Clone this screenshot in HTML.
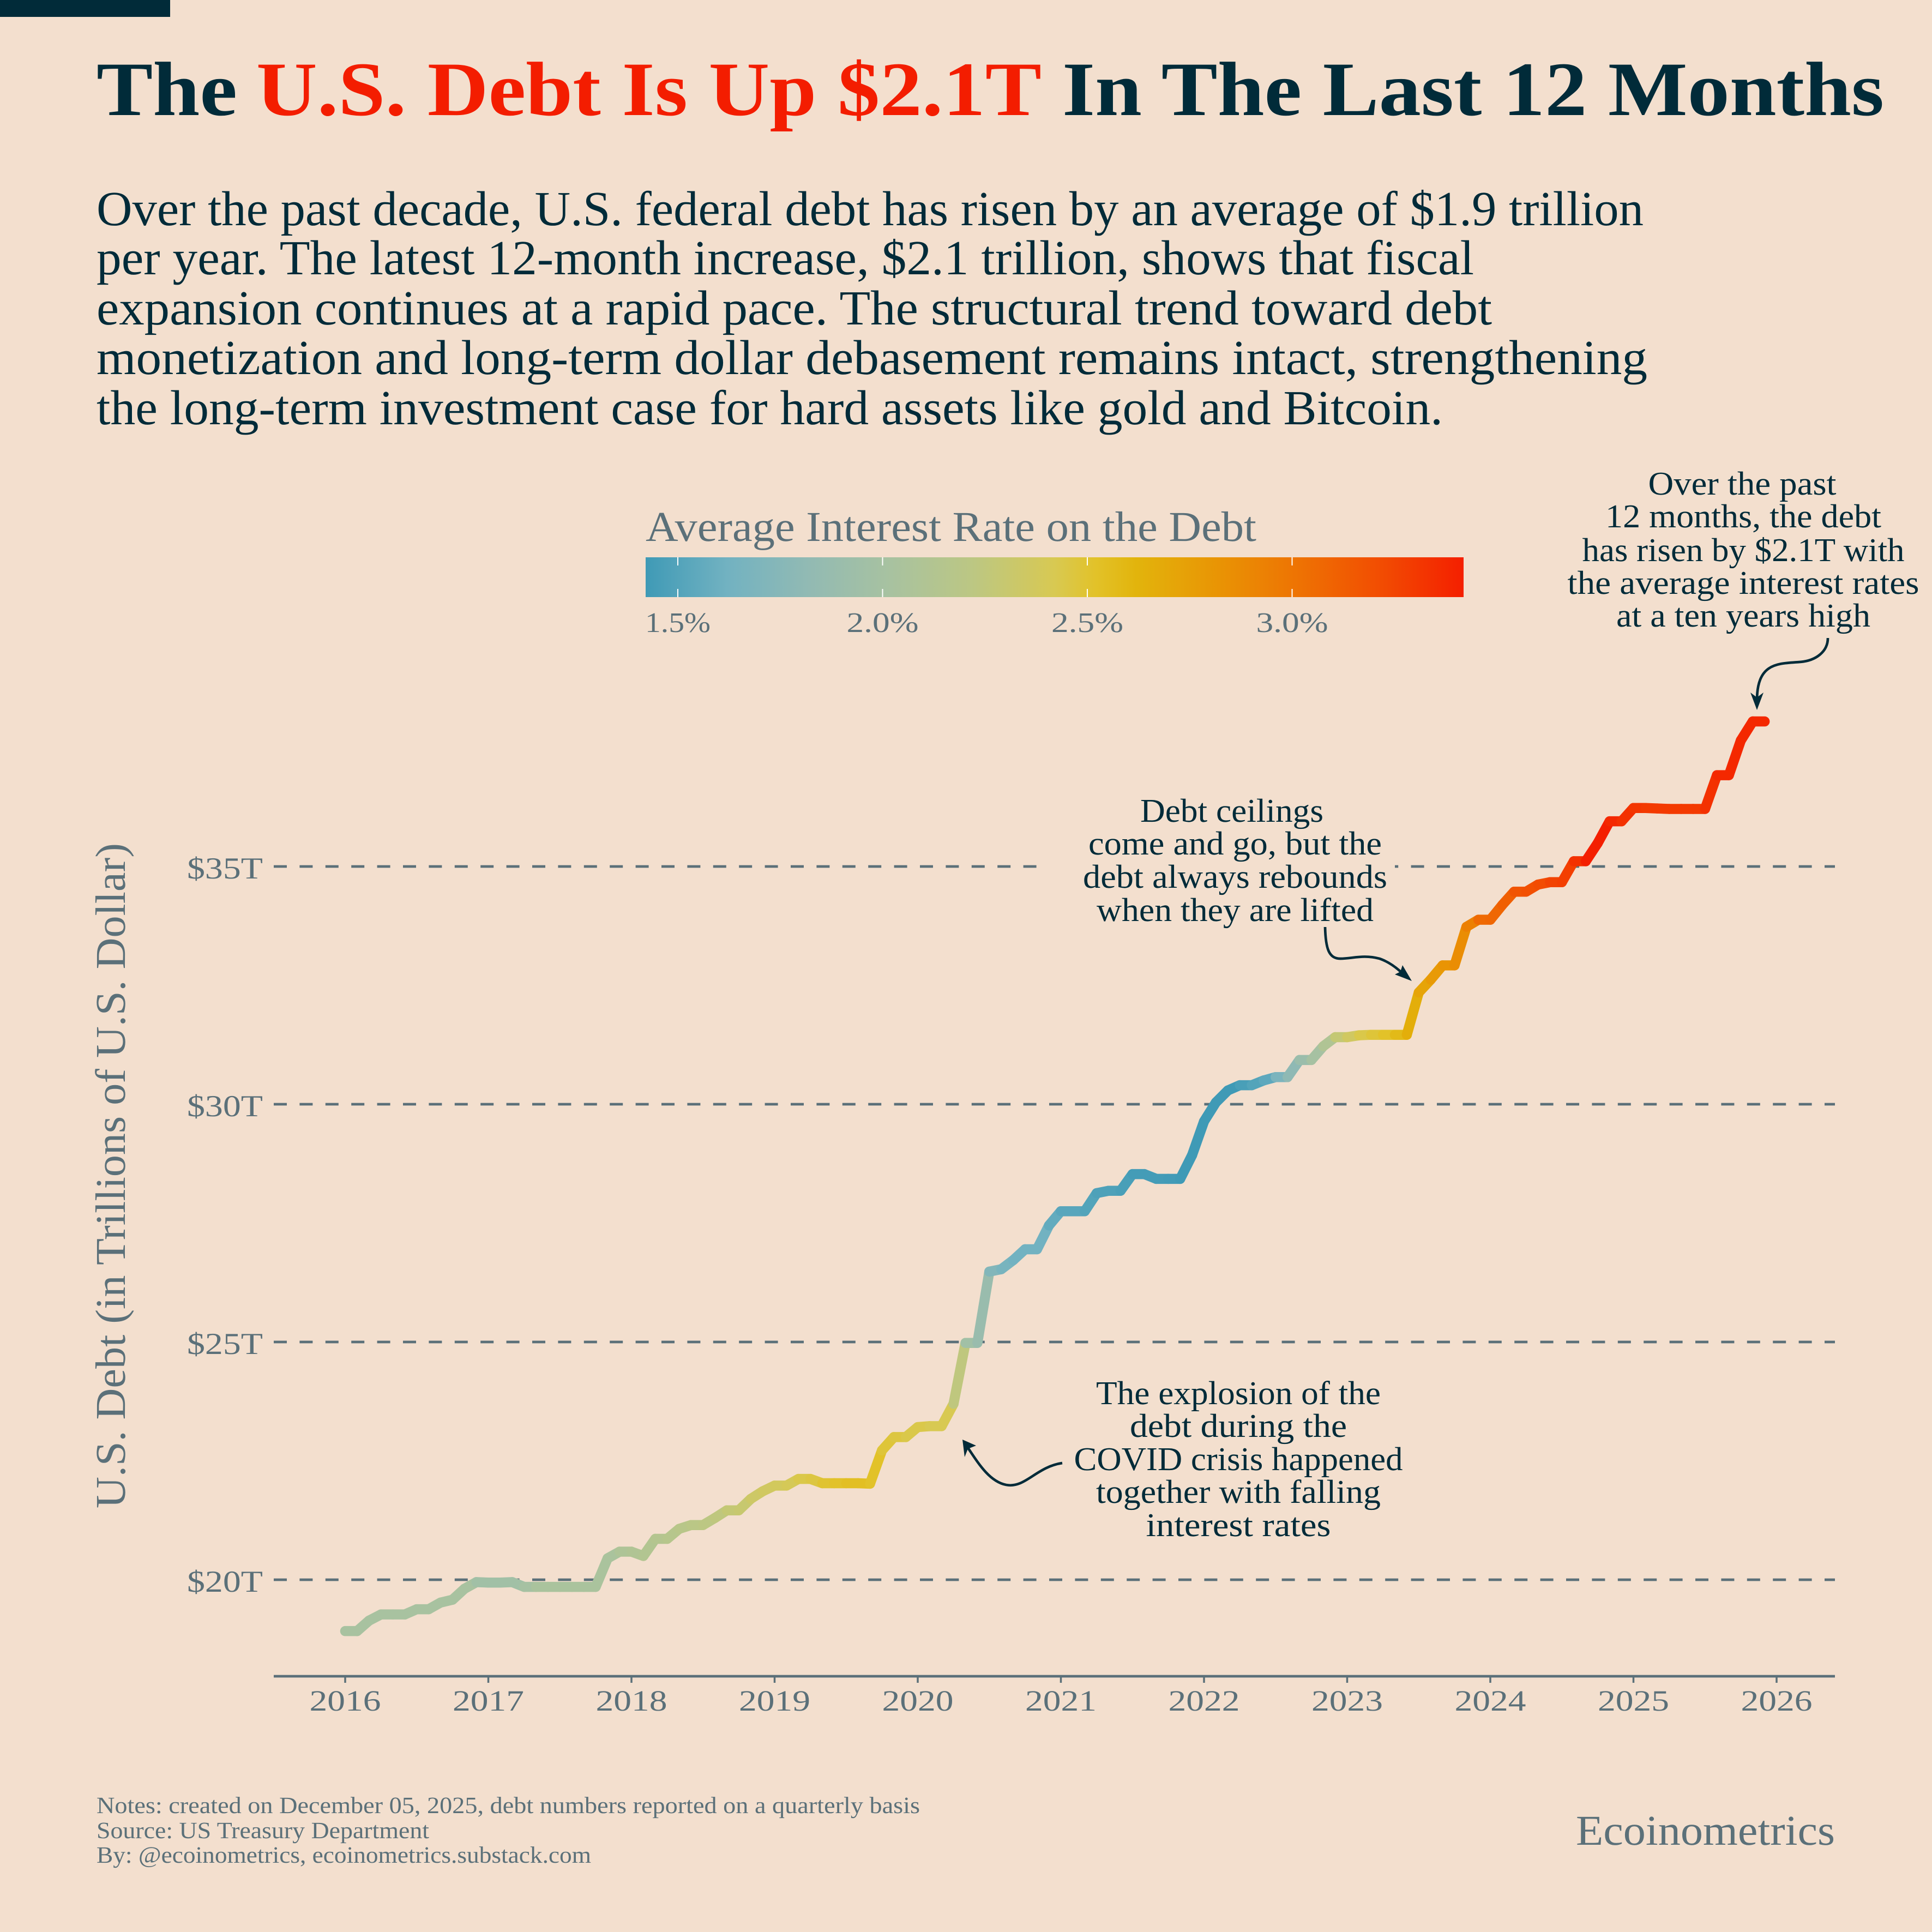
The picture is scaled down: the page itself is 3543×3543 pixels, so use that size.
<!DOCTYPE html>
<html lang="en">
<head>
<meta charset="utf-8">
<title>The U.S. Debt Is Up $2.1T In The Last 12 Months</title>
<style>
html,body{margin:0;padding:0;background:#f3dfce;}
svg{display:block;}
text{font-family:"Liberation Serif",serif;text-rendering:geometricPrecision;}
.dark{fill:#012b39;}
.gray{fill:#5b7079;}
.ann{fill:#012b39;font-size:61px;text-anchor:middle;}
.sub{fill:#012b39;font-size:90px;}
.note{fill:#5b7079;font-size:43px;}
.lgl{fill:#5b7079;font-size:52px;text-anchor:middle;}
</style>
</head>
<body>
<svg id="chart" xmlns="http://www.w3.org/2000/svg" width="3543" height="3543" viewBox="0 0 3543 3543">
  <defs>
    <linearGradient id="cbar-grad" x1="0" x2="1" y1="0" y2="0"></linearGradient>
  </defs>
  <rect x="0" y="0" width="3543" height="3543" fill="#f3dfce"/>
  <rect x="0" y="0" width="312" height="31" fill="#012b39"/>

  <g font-weight="700" font-size="141">
    <text class="dark" x="177" y="211" textLength="258" lengthAdjust="spacingAndGlyphs">The</text>
    <text x="470" y="211" fill="#f31d00" textLength="1440" lengthAdjust="spacingAndGlyphs">U.S. Debt Is Up $2.1T</text>
    <text class="dark" x="1948" y="211" textLength="1507" lengthAdjust="spacingAndGlyphs">In The Last 12 Months</text>
  </g>

  <g>
    <text class="sub" x="177" y="413" textLength="2837" lengthAdjust="spacingAndGlyphs">Over the past decade, U.S. federal debt has risen by an average of $1.9 trillion</text>
    <text class="sub" x="177" y="503" textLength="2526" lengthAdjust="spacingAndGlyphs">per year. The latest 12-month increase, $2.1 trillion, shows that fiscal</text>
    <text class="sub" x="177" y="595" textLength="2559" lengthAdjust="spacingAndGlyphs">expansion continues at a rapid pace. The structural trend toward debt</text>
    <text class="sub" x="177" y="686" textLength="2844" lengthAdjust="spacingAndGlyphs">monetization and long-term dollar debasement remains intact, strengthening</text>
    <text class="sub" x="177" y="778" textLength="2469" lengthAdjust="spacingAndGlyphs">the long-term investment case for hard assets like gold and Bitcoin.</text>
  </g>

  <g>
    <text class="gray" x="1184" y="992" font-size="78" textLength="1120" lengthAdjust="spacingAndGlyphs">Average Interest Rate on the Debt</text>
    <rect x="1184" y="1022" width="1500" height="73" fill="url(#cbar-grad)"/>
    <g id="legend-ticks"></g>
  </g>

  <g id="grid"></g>
  <rect x="1918" y="1460" width="640" height="250" fill="#f3dfce"/>
  <g id="y-axis"></g>
  <text class="gray" font-size="78" text-anchor="middle" transform="translate(229 2156) rotate(-90)" textLength="1220" lengthAdjust="spacingAndGlyphs">U.S. Debt (in Trillions of U.S. Dollar)</text>
  <g id="x-axis"></g>
  <g id="series" fill="none" stroke-width="18.5" stroke-linecap="round"></g>

  <g>
    <text class="ann" x="3195" y="907" textLength="345" lengthAdjust="spacingAndGlyphs">Over the past</text>
    <text class="ann" x="3197" y="967" textLength="506" lengthAdjust="spacingAndGlyphs">12 months, the debt</text>
    <text class="ann" x="3197" y="1029" textLength="591" lengthAdjust="spacingAndGlyphs">has risen by $2.1T with</text>
    <text class="ann" x="3197" y="1089" textLength="645" lengthAdjust="spacingAndGlyphs">the average interest rates</text>
    <text class="ann" x="3197" y="1149" textLength="466" lengthAdjust="spacingAndGlyphs">at a ten years high</text>
    <path d="M3352 1170 C3352 1195 3330 1212 3300 1214 C3260 1217 3222 1215 3222 1285" fill="none" stroke="#012b39" stroke-width="4.7"/>
    <polygon points="3222,1302 3210,1270 3222,1279 3234,1270" fill="#012b39"/>
  </g>

  <g>
    <text class="ann" x="2259" y="1507" textLength="336" lengthAdjust="spacingAndGlyphs">Debt ceilings</text>
    <text class="ann" x="2265" y="1567" textLength="538" lengthAdjust="spacingAndGlyphs">come and go, but the</text>
    <text class="ann" x="2265" y="1628" textLength="558" lengthAdjust="spacingAndGlyphs">debt always rebounds</text>
    <text class="ann" x="2265" y="1689" textLength="508" lengthAdjust="spacingAndGlyphs">when they are lifted</text>
    <path d="M2430 1700 C2431 1740 2437 1758 2458 1758 C2480 1758 2500 1750 2530 1758 C2550 1765 2565 1778 2575 1788" fill="none" stroke="#012b39" stroke-width="4.7"/>
    <polygon points="2589,1799 2572,1770 2568,1782 2558,1787" fill="#012b39"/>
  </g>

  <g>
    <text class="ann" x="2271" y="2575" textLength="522" lengthAdjust="spacingAndGlyphs">The explosion of the</text>
    <text class="ann" x="2271" y="2635" textLength="398" lengthAdjust="spacingAndGlyphs">debt during the</text>
    <text class="ann" x="2271" y="2696" textLength="603" lengthAdjust="spacingAndGlyphs">COVID crisis happened</text>
    <text class="ann" x="2271" y="2756" textLength="522" lengthAdjust="spacingAndGlyphs">together with falling</text>
    <text class="ann" x="2271" y="2817" textLength="339" lengthAdjust="spacingAndGlyphs">interest rates</text>
    <path d="M1948 2683 C1900 2690 1880 2730 1845 2723 C1815 2717 1795 2685 1775 2655" fill="none" stroke="#012b39" stroke-width="4.7"/>
    <polygon points="1765,2640 1769,2672 1775,2657 1790,2651" fill="#012b39"/>
  </g>

  <g>
    <text class="note" x="177" y="3325" textLength="1510" lengthAdjust="spacingAndGlyphs">Notes: created on December 05, 2025, debt numbers reported on a quarterly basis</text>
    <text class="note" x="177" y="3371" textLength="610" lengthAdjust="spacingAndGlyphs">Source: US Treasury Department</text>
    <text class="note" x="177" y="3416" textLength="907" lengthAdjust="spacingAndGlyphs">By: @ecoinometrics, ecoinometrics.substack.com</text>
  </g>
  <text class="gray" x="2890" y="3383" font-size="78" textLength="475" lengthAdjust="spacingAndGlyphs">Ecoinometrics</text>
</svg>

<script>
// Monthly debt, trillions of USD, Jan 2016 onward
var debt = [
  18.92,18.92,19.14,19.27,19.27,19.27,19.38,19.38,19.52,19.58,19.81,19.95,
  19.94,19.94,19.95,19.85,19.85,19.85,19.85,19.85,19.85,19.85,20.45,20.59,
  20.59,20.50,20.86,20.86,21.07,21.15,21.15,21.30,21.46,21.46,21.70,21.86,
  21.98,21.98,22.12,22.12,22.03,22.03,22.03,22.03,22.02,22.72,23.00,23.00,
  23.21,23.23,23.23,23.70,24.98,24.98,26.48,26.53,26.72,26.95,26.95,27.45,
  27.75,27.75,27.75,28.13,28.18,28.18,28.53,28.53,28.43,28.43,28.43,28.93,
  29.64,30.04,30.29,30.40,30.40,30.50,30.57,30.57,30.93,30.93,31.22,31.41,
  31.41,31.45,31.46,31.46,31.46,31.46,32.35,32.62,32.92,32.92,33.73,33.88,
  33.88,34.19,34.47,34.47,34.62,34.67,34.67,35.11,35.11,35.49,35.95,35.95,
  36.23,36.23,36.22,36.21,36.21,36.21,36.21,36.92,36.92,37.65,38.05,38.05
];
// Monthly average interest rate, percent (estimated from the line colour)
var rate = [
  2.02,2.02,2.02,2.02,2.02,2.02,2.02,2.02,2.02,2.02,2.02,1.96,
  1.96,1.96,1.96,2.00,2.04,2.04,2.04,2.04,2.04,2.04,2.04,2.08,
  2.10,2.12,2.14,2.16,2.18,2.20,2.22,2.24,2.28,2.30,2.34,2.36,
  2.38,2.40,2.44,2.46,2.50,2.52,2.54,2.54,2.52,2.48,2.46,2.44,
  2.44,2.42,2.42,2.24,1.96,1.88,1.72,1.66,1.62,1.62,1.62,1.56,
  1.52,1.52,1.50,1.48,1.48,1.46,1.44,1.44,1.44,1.43,1.42,1.42,
  1.42,1.42,1.42,1.46,1.50,1.54,1.68,1.80,1.90,2.00,2.10,2.28,
  2.36,2.44,2.48,2.52,2.58,2.66,2.72,2.78,2.82,2.86,2.94,3.06,
  3.08,3.12,3.18,3.20,3.22,3.26,3.28,3.34,3.42,3.42,3.38,3.34,
  3.32,3.30,3.30,3.30,3.30,3.30,3.34,3.38,3.38,3.38,3.38,3.38
];
var startYear = 2016;
var xTickYears = [2016,2017,2018,2019,2020,2021,2022,2023,2024,2025,2026];
var yTickValues = [20,25,30,35];
var yTickLabels = ["$20T","$25T","$30T","$35T"];
var legendTickValues = [1.5,2.0,2.5,3.0];
var legendTickLabels = ["1.5%","2.0%","2.5%","3.0%"];
var rateDomain = [1.42,3.42];
var paletteStops = [0,0.1,0.2,0.3,0.4,0.5,0.55,0.6,0.7,0.8,0.9,1];
var paletteColors = ["#3f9ab6","#72b2c1","#92bab3","#a8c2a0","#bcc783","#d8c952","#e2c229","#e2b40c","#e99404","#ee7203","#f24c02","#f41f00"];

var NS = "http://www.w3.org/2000/svg";
function xScale(year){ return 633 + 262.5 * (year - 2016); }
function yScale(v){ return 2897 - 87.2 * (v - 20); }
function legendX(r){ return 1243 + 751 * (r - 1.5); }
function hex(c){ return [parseInt(c.substr(1,2),16),parseInt(c.substr(3,2),16),parseInt(c.substr(5,2),16)]; }
function rateColor(r){
  var f = (r - rateDomain[0]) / (rateDomain[1] - rateDomain[0]);
  f = Math.max(0, Math.min(1, f));
  for (var k = 0; k < paletteStops.length - 1; k++) {
    if (f <= paletteStops[k + 1]) {
      var t = (f - paletteStops[k]) / (paletteStops[k + 1] - paletteStops[k]);
      var a = hex(paletteColors[k]), b = hex(paletteColors[k + 1]);
      return "rgb(" + Math.round(a[0] + (b[0] - a[0]) * t) + "," + Math.round(a[1] + (b[1] - a[1]) * t) + "," + Math.round(a[2] + (b[2] - a[2]) * t) + ")";
    }
  }
  return paletteColors[paletteColors.length - 1];
}
function make(tag, attrs, parent, txt){
  var el = document.createElementNS(NS, tag);
  for (var key in attrs) { el.setAttribute(key, attrs[key]); }
  if (txt !== undefined) { el.textContent = txt; }
  parent.appendChild(el);
  return el;
}

// colour bar gradient
var grad = document.getElementById("cbar-grad");
paletteStops.forEach(function(s, i){
  make("stop", {offset: s, "stop-color": paletteColors[i]}, grad);
});

// legend ticks
var legendG = document.getElementById("legend-ticks");
legendTickValues.forEach(function(v, i){
  var x = legendX(v);
  var t1 = make("line", {x1: x, x2: x, y1: 1022, y2: 1037, stroke: "#ffffff", "stroke-width": 2}, legendG);
  
  
  var t2 = make("line", {x1: x, x2: x, y1: 1080, y2: 1095, stroke: "#ffffff", "stroke-width": 2}, legendG);
  
  
  var lab = make("text", {"class": "lgl", x: x, y: 1159, textLength: i === 0 ? 120 : 132, lengthAdjust: "spacingAndGlyphs"}, legendG, legendTickLabels[i]);
  
  
});

// gridlines and y-axis labels
var gridG = document.getElementById("grid");
var yG = document.getElementById("y-axis");
yTickValues.forEach(function(v, i){
  var y = yScale(v);
  var g = make("line", {x1: 502, x2: 3365, y1: y, y2: y, stroke: "#5b7079", "stroke-width": 4.7, "stroke-dasharray": "24 23.4"}, gridG);
  
  
  var lab = make("text", {x: 482, y: y + 22, "text-anchor": "end", "class": "gray", "font-size": 56, textLength: 139, lengthAdjust: "spacingAndGlyphs"}, yG, yTickLabels[i]);
  
  
});

// x axis
var xG = document.getElementById("x-axis");
var axisLine = make("line", {x1: 502, x2: 3365, y1: 3074, y2: 3074, stroke: "#5b7079", "stroke-width": 4.7}, xG);


xTickYears.forEach(function(yr){
  var x = xScale(yr);
  var tk = make("line", {x1: x, x2: x, y1: 3074, y2: 3086, stroke: "#5b7079", "stroke-width": 3.5}, xG);
  
  
  var lab = make("text", {x: x, y: 3137, "text-anchor": "middle", "class": "gray", "font-size": 54, textLength: 131, lengthAdjust: "spacingAndGlyphs"}, xG, String(yr));
  
  
});

// debt line, one coloured segment per month
var seriesG = document.getElementById("series");
for (var i = 0; i < debt.length - 1; i++) {
  var seg = make("line", {
    x1: xScale(startYear + i / 12), y1: yScale(debt[i]),
    x2: xScale(startYear + (i + 1) / 12), y2: yScale(debt[i + 1]),
    stroke: rateColor(rate[i])
  }, seriesG);
  
  
}
</script>
</body>
</html>
